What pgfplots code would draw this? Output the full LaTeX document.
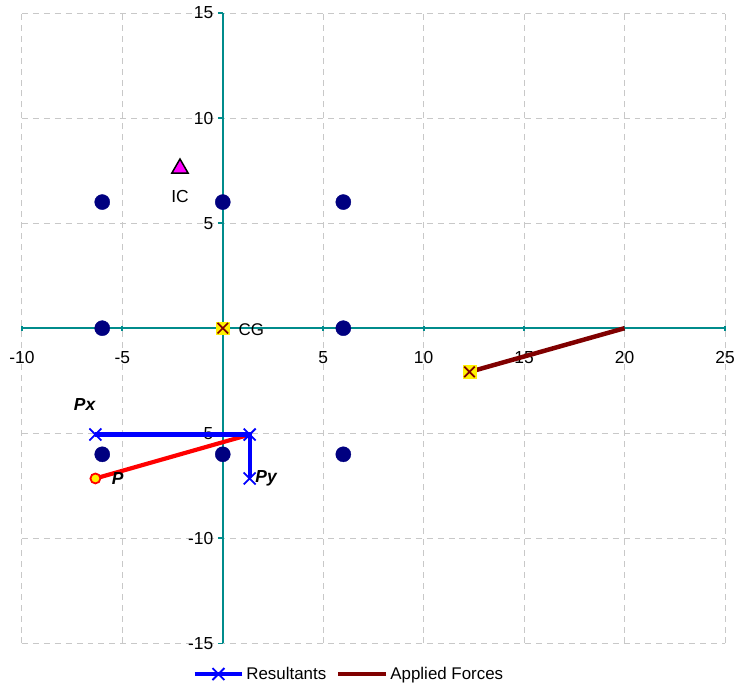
\documentclass[border=0pt]{standalone}
\usepackage{pgfplots}
\pgfplotsset{compat=1.18}
\usepackage{fontspec}
\setmainfont{Liberation Sans}
\definecolor{axteal}{RGB}{0,140,140}
\definecolor{navyd}{RGB}{0,0,128}
\definecolor{darkredf}{RGB}{128,0,0}
\definecolor{gridg}{RGB}{200,200,200}
\definecolor{magf}{RGB}{255,0,255}
\begin{document}
\begin{tikzpicture}
\begin{axis}[
  name=ax,
  scale only axis, width=707pt, height=634pt,
  xmin=-10, xmax=25, ymin=-15, ymax=15,
  axis lines=middle,
  axis line style={-, draw=axteal, line width=2.1pt},
  x axis line style={-, draw=axteal, line width=2.1pt},
  y axis line style={-, draw=axteal, line width=2.1pt},
  every inner x axis line/.append style={-, draw=axteal, line width=2.1pt},
  every inner y axis line/.append style={-, draw=axteal, line width=2.1pt},
  xtick={-10,-5,0,5,10,15,20,25},
  ytick={-15,-10,-5,0,5,10,15},
  major tick length=5pt,
  tick style={draw=axteal, line width=1.8pt},
  xtick align=center, ytick align=outside,
  grid=major,
  grid style={draw=gridg, dash pattern=on 6pt off 5pt, line width=0.8pt},
  ticklabel style={font=\fontsize{17.5}{19}\selectfont, text=black},
  /pgf/number format/assume math mode=true,
  xticklabel style={yshift=-17pt},
  yticklabel style={xshift=-1pt},
  clip=false,
  legend style={at={(axis description cs:0.465,-0.031)}, anchor=north, draw=none, fill=none,
    font=\fontsize{17}{19}\selectfont, legend columns=2,
    /tikz/every even column/.append style={column sep=8pt}},
  legend image code/.code={\draw[#1] (0pt,0pt) -- (24pt,0pt) (48pt,0pt) -- (24pt,0pt) (24pt,0pt) plot coordinates {(24pt,0pt)};},
]
% grid points
\addplot[only marks, mark=*, mark size=7.6pt, mark options={fill=navyd, draw=navyd}, forget plot]
  coordinates {(-6,6) (0,6) (6,6) (-6,0) (6,0) (-6,-6) (0,-6) (6,-6)};
% IC
\addplot[only marks, mark=triangle*, mark size=9.5pt, mark options={fill=magf, draw=black, line width=1.5pt}, forget plot]
  coordinates {(-2.13,7.6)};
% red P line
\addplot[red, line width=4.2pt, forget plot] coordinates {(-6.34,-7.15) (1.34,-5.06)};
% Resultants
\addplot[blue, line width=4.2pt, mark=x, mark size=8.5pt, mark options={line width=1.8pt}] coordinates {(-6.34,-5.06) (1.34,-5.06) (1.34,-7.15)};
\addlegendentry{Resultants}
% Applied forces
\addplot[darkredf, line width=4.5pt] coordinates {(12.28,-2.08) (20,0)};
\addlegendentry{Applied Forces}
\addplot[only marks, mark=square*, mark size=6.5pt, mark options={fill=yellow, draw=yellow}, forget plot]
  coordinates {(12.28,-2.08) (0,0)};
\addplot[only marks, mark=x, mark size=7.5pt, mark options={draw=darkredf, line width=1.7pt}, forget plot]
  coordinates {(12.28,-2.08) (0,0)};
% P point
\addplot[only marks, mark=*, mark size=5pt, mark options={fill=yellow, draw=red, line width=1.8pt}, forget plot]
  coordinates {(-6.34,-7.15)};
% labels
\node[font=\fontsize{17.5}{19}\selectfont] at (axis cs:-2.13,6.25) {IC};
\node[font=\fontsize{17}{19}\selectfont, anchor=west] at (axis cs:0.62,-0.05) {CG};
\node[font=\fontsize{17.5}{19}\selectfont\bfseries\itshape] at (axis cs:-6.88,-3.64) {Px};
\node[font=\fontsize{17.5}{19}\selectfont\bfseries\itshape, anchor=west] at (axis cs:-5.7,-7.15) {P};
\node[font=\fontsize{17.5}{19}\selectfont\bfseries\itshape, anchor=west] at (axis cs:1.45,-7.15) {Py};
\end{axis}
\path ([shift={(-22pt,-40pt)}]ax.south west) rectangle ([shift={(9pt,13pt)}]ax.north east);
\end{tikzpicture}
\end{document}
